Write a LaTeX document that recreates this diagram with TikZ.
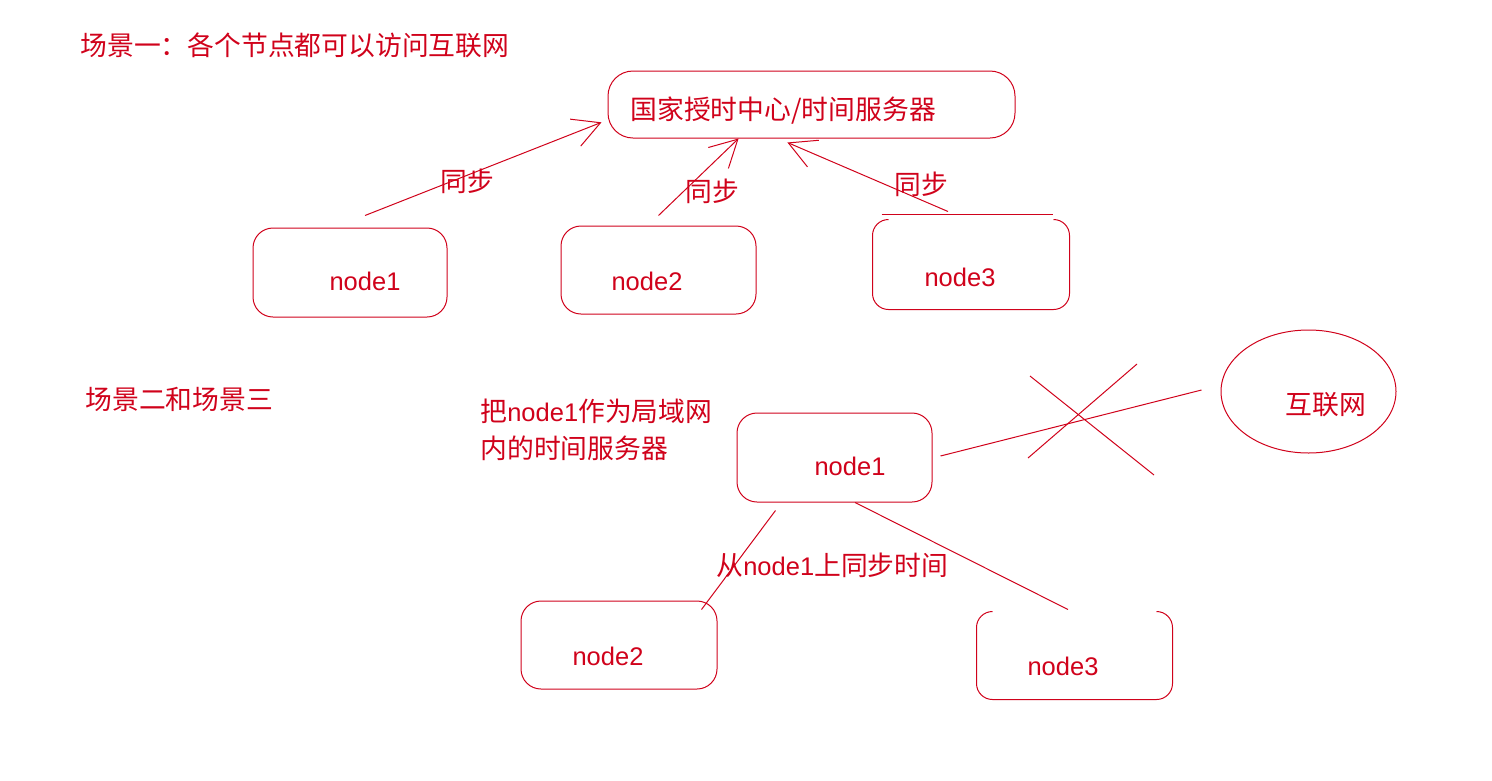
\documentclass[tikz,border=0pt]{standalone}
\usepackage{fontspec}
\newfontfamily\cjk{Noto Sans CJK SC}
\newfontfamily\lat{Liberation Sans}
\newcommand\nodename[1]{{\lat\fontsize{25.5}{37}\selectfont #1}}
\usetikzlibrary{shapes,arrows.meta}
\definecolor{sred}{RGB}{208,2,27}

\begin{document}
\begin{tikzpicture}[x=1pt,y=-1pt,color=sred,line width=1pt,
    box/.style={draw,rectangle,rounded corners=20pt,minimum width=195pt,minimum height=89pt},
    openbox/.style={rectangle,minimum width=195pt,minimum height=89pt},
    txt/.style={font=\cjk\fontsize{26.8}{37}\selectfont,inner sep=0pt},
    sync/.style={-{Straight Barb[length=27pt,width=29pt]}}]
        \useasboundingbox (0,0) rectangle (1492,780);

        % scenario one
        \node[txt,anchor=west] (title1) at (80,45) {场景一：各个节点都可以访问互联网};
        \node[box,rounded corners=25pt,minimum width=407pt,minimum height=67pt] (srv) at (811.5,104.5) {};
        \node[txt,anchor=west] (srvt) at (630,111) {国家授时中心/时间服务器};

        \node[box,minimum width=194pt] (n1) at (350,272.5) {};
        \node[txt] (n1t) at (365,281) {\nodename{node1}};
        \node[box,minimum height=88pt] (n2) at (658.5,270) {};
        \node[txt] (n2t) at (647,281) {\nodename{node2}};
        \node[openbox,minimum width=196pt] (n3) at (971,264.5) {};
        \node[txt] (n3t) at (960,277) {\nodename{node3}};
        \draw[rounded corners=16pt] ([xshift=16pt]n3.north west) -- (n3.north west) -- (n3.south west)
            -- (n3.south east) -- (n3.north east) -- ([xshift=-16pt]n3.north east);
        \draw ([shift={(9,-5)}]n3.north west) -- ([shift={(-17,-5)}]n3.north east);

        \draw[sync] ([shift={(15,-12)}]n1.north) -- ([xshift=-6pt]srv.185);
        \draw[sync] ([shift={(0,-10)}]n2.north) -- (srv.205);
        \draw[sync] ([shift={(-23,-8)}]n3.north) -- ([shift={(-2,4)}]srv.237);
        \node[txt] (s1) at (467,181) {同步};
        \node[txt] (s2) at (712,191) {同步};
        \node[txt] (s3) at (921,184) {同步};

        % scenario two and three
        \node[txt,anchor=west] (title2) at (85,399) {场景二和场景三};
        \node[txt,anchor=west,align=left] (note) at (480,429.5) {把\nodename{node1}作为局域网\\内的时间服务器};

        \node[box] (m1) at (834.5,457.5) {};
        \node[txt] (m1t) at (850,466) {\nodename{node1}};
        \node[draw,ellipse,minimum width=175pt,minimum height=123pt] (inet) at (1308.5,391.5) {};
        \node[txt] (inett) at (1326,405) {互联网};
        \node[box,minimum width=196pt,minimum height=88pt] (m2) at (619,645) {};
        \node[txt] (m2t) at (608,656) {\nodename{node2}};
        \node[openbox,minimum height=87pt] (m3) at (1074.5,655.5) {};
        \node[txt] (m3t) at (1063,666) {\nodename{node3}};
        \draw[rounded corners=16pt] ([xshift=16pt]m3.north west) -- (m3.north west) -- (m3.south west)
            -- (m3.south east) -- (m3.north east) -- ([xshift=-16pt]m3.north east);

        \draw ([shift={(8,-1.5)}]m1.east) -- ([shift={(-19,-1.5)}]inet.west);
        \draw (1030,376) -- (1154,475);
        \draw (1137,364) -- (1028,458);

        \draw ([shift={(39,8)}]m1.south west) -- ([shift={(-16,9)}]m2.north east);
        \draw ([shift={(20.5,0)}]m1.south) -- ([shift={(-6.5,-2)}]m3.north);
        \node[txt,anchor=west] (sync2) at (716,565) {从\nodename{node1}上同步时间};
      \end{tikzpicture}
\end{document}
